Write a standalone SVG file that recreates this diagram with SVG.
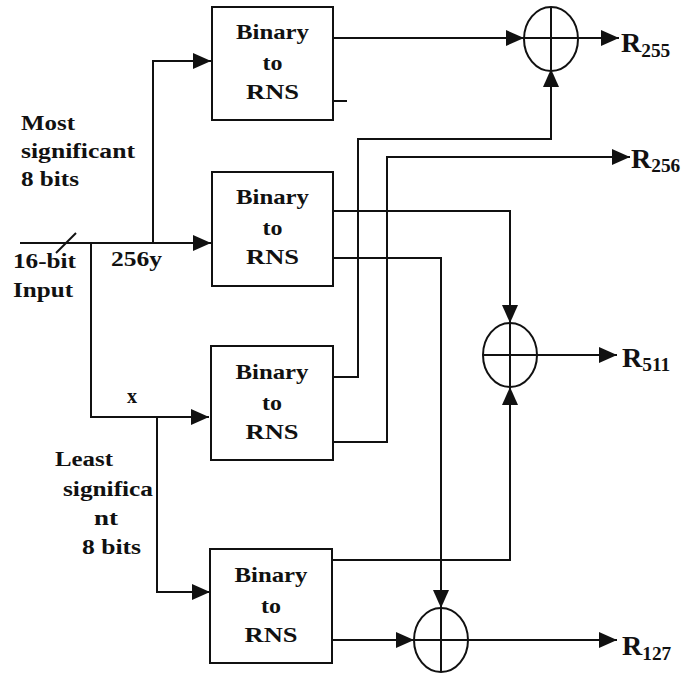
<svg xmlns="http://www.w3.org/2000/svg" width="685" height="674" viewBox="0 0 685 674">
<style>
  .box{fill:#fff;stroke:#111;stroke-width:2}
  .sum{fill:none;stroke:#111;stroke-width:2}
  .wire{fill:none;stroke:#111;stroke-width:2}
  .arr{fill:none;stroke:#111;stroke-width:2;marker-end:url(#ah)}
  text{font-family:"Liberation Serif","Times New Roman",serif;font-weight:bold;fill:#111}
  .bt{font-size:22px;text-anchor:middle}
  .lb{font-size:20px}
  .R{font-size:28px}
  .sub{font-size:18px}
</style>
<defs>
  <marker id="ah" markerUnits="userSpaceOnUse" markerWidth="20" markerHeight="18" refX="18" refY="8" orient="auto">
    <path d="M0,0 L18,8 L0,16 z" fill="#111"/>
  </marker>
</defs>
<rect width="685" height="674" fill="#fff"/>

<g id="connectors">
  <path class="arr" d="M20,243 H211"/>
  <path class="wire" d="M56,253 L76,233"/>
  <path class="arr" d="M153,243 V61 H211"/>
  <path class="arr" d="M91,243 V417 H209"/>
  <path class="arr" d="M157,417 V592 H210"/>
  <path class="arr" d="M333,38 H524"/>
  <path class="wire" d="M333,101 H347"/>
  <path class="arr" d="M578,38 H619"/>
  <path class="arr" d="M333,377 H358 V139 H551 V69"/>
  <path class="arr" d="M333,442 H387 V157 H630"/>
  <path class="arr" d="M333,211 H510 V323"/>
  <path class="arr" d="M333,258 H441 V608"/>
  <path class="arr" d="M332,560 H510 V387"/>
  <path class="arr" d="M332,640 H414"/>
  <path class="arr" d="M537,355 H617"/>
  <path class="arr" d="M468,640 H617"/>
</g>

<g id="box1">
  <rect class="box" x="212" y="7" width="121" height="113"/>
  <text class="bt" x="272.5" y="39" textLength="73" lengthAdjust="spacingAndGlyphs">Binary</text>
  <text class="bt" x="272.5" y="70" textLength="20" lengthAdjust="spacingAndGlyphs">to</text>
  <text class="bt" x="272.5" y="99" textLength="53" lengthAdjust="spacingAndGlyphs">RNS</text>
</g>
<g id="box2">
  <rect class="box" x="212" y="172" width="121" height="114"/>
  <text class="bt" x="272.5" y="204" textLength="73" lengthAdjust="spacingAndGlyphs">Binary</text>
  <text class="bt" x="272.5" y="235" textLength="20" lengthAdjust="spacingAndGlyphs">to</text>
  <text class="bt" x="272.5" y="264" textLength="53" lengthAdjust="spacingAndGlyphs">RNS</text>
</g>
<g id="box3">
  <rect class="box" x="211" y="346" width="122" height="114"/>
  <text class="bt" x="272" y="379" textLength="73" lengthAdjust="spacingAndGlyphs">Binary</text>
  <text class="bt" x="272" y="410" textLength="20" lengthAdjust="spacingAndGlyphs">to</text>
  <text class="bt" x="272" y="439" textLength="53" lengthAdjust="spacingAndGlyphs">RNS</text>
</g>
<g id="box4">
  <rect class="box" x="210" y="549" width="122" height="114"/>
  <text class="bt" x="271" y="582" textLength="73" lengthAdjust="spacingAndGlyphs">Binary</text>
  <text class="bt" x="271" y="613" textLength="20" lengthAdjust="spacingAndGlyphs">to</text>
  <text class="bt" x="271" y="642" textLength="53" lengthAdjust="spacingAndGlyphs">RNS</text>
</g>

<g id="sum1">
  <ellipse class="sum" cx="551" cy="39" rx="27" ry="32"/>
  <path class="wire" d="M524,38 H578 M551,7 V71"/>
</g>
<g id="sum2">
  <ellipse class="sum" cx="510" cy="355" rx="27" ry="32"/>
  <path class="wire" d="M483,355 H537 M510,323 V387"/>
</g>
<g id="sum3">
  <ellipse class="sum" cx="441" cy="640" rx="27" ry="32"/>
  <path class="wire" d="M414,640 H468 M441,608 V672"/>
</g>

<g id="outputs">
  <text class="R" x="621" y="52">R<tspan class="sub" dy="5" textLength="29" lengthAdjust="spacingAndGlyphs">255</tspan></text>
  <text class="R" x="631" y="168">R<tspan class="sub" dy="4" textLength="29" lengthAdjust="spacingAndGlyphs">256</tspan></text>
  <text class="R" x="622" y="367">R<tspan class="sub" dy="4" textLength="28" lengthAdjust="spacingAndGlyphs">511</tspan></text>
  <text class="R" x="622" y="655">R<tspan class="sub" dy="5" textLength="29" lengthAdjust="spacingAndGlyphs">127</tspan></text>
</g>

<g id="labels">
  <text class="lb" x="21" y="130" textLength="54" lengthAdjust="spacingAndGlyphs">Most</text>
  <text class="lb" x="21" y="158" textLength="114" lengthAdjust="spacingAndGlyphs">significant</text>
  <text class="lb" x="21" y="186" textLength="58" lengthAdjust="spacingAndGlyphs">8 bits</text>
  <text class="lb" x="13" y="268" textLength="63" lengthAdjust="spacingAndGlyphs">16-bit</text>
  <text class="lb" x="13" y="297" textLength="60" lengthAdjust="spacingAndGlyphs">Input</text>
  <text class="lb" x="111" y="266" textLength="51" lengthAdjust="spacingAndGlyphs">256y</text>
  <text class="lb" x="127" y="403" textLength="10" lengthAdjust="spacingAndGlyphs">x</text>
  <text class="lb" x="55" y="466" textLength="58" lengthAdjust="spacingAndGlyphs">Least</text>
  <text class="lb" x="63" y="496" textLength="90" lengthAdjust="spacingAndGlyphs">significa</text>
  <text class="lb" x="94" y="525" textLength="24" lengthAdjust="spacingAndGlyphs">nt</text>
  <text class="lb" x="82" y="554" textLength="59" lengthAdjust="spacingAndGlyphs">8 bits</text>
</g>
</svg>
